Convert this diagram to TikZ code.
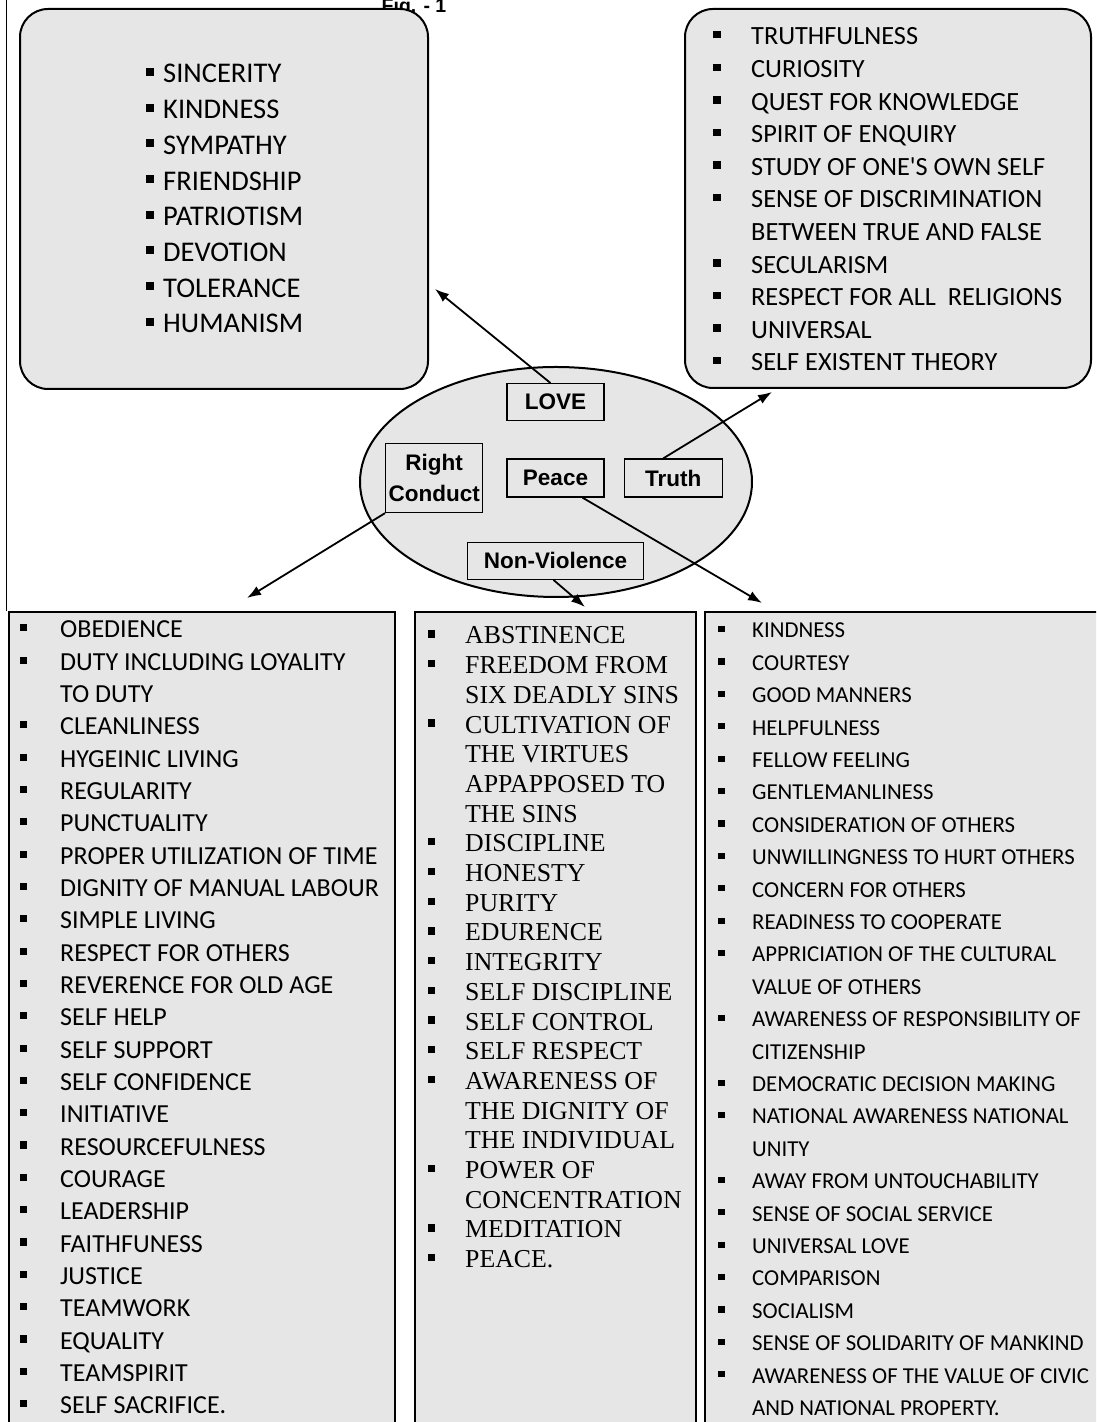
\documentclass[tikz,border=0pt]{standalone}
\usepackage{fontspec}
\setmainfont{Carlito}
\newfontfamily\serifFont{Liberation Serif}
\newfontfamily\headFont{Liberation Sans}
\usetikzlibrary{arrows.meta, positioning, shapes.geometric, calc}
\definecolor{boxFill}{RGB}{230,230,230}
\definecolor{ink}{RGB}{0,0,0}
\newcommand{\sqb}{\rule[.25em]{.28em}{.28em}}
\newcommand{\listFont}[2]{\fontsize{#1}{#2}\selectfont}
\tikzset{
  valueBox/.style={draw=ink, line width=2pt, rounded corners=28pt, fill=boxFill, inner sep=0pt},
  listBox/.style={draw=ink, line width=2pt, fill=boxFill, inner sep=0pt},
  core/.style={ellipse, draw=ink, line width=2pt, fill=boxFill, inner sep=0pt},
  tag/.style={draw=ink, line width=1.3pt, fill=boxFill, inner sep=0pt, align=center,
    font=\headFont\bfseries\fontsize{22.5}{31}\selectfont},
  items/.style={inner sep=0pt, anchor=base west},
  link/.style={-{Latex[length=14pt,width=10pt]}, line width=1.8pt, draw=ink},
  frameLine/.style={draw=ink, line width=1pt}
}

\begin{document}
\begin{tikzpicture}[x=1pt, y=1pt]
  \useasboundingbox (0,0) rectangle (1096,1422);
  \clip (0,0) rectangle (1096,1422);

  \node[anchor=base, font=\headFont\bfseries\fontsize{19.5}{22}\selectfont] (title) at (414,1409) {Fig. - 1};

  % upper boxes
  \node[valueBox, minimum width=408pt, minimum height=380pt] (loveBox) at (224,1223) {};
  \node[valueBox, minimum width=406pt, minimum height=379pt] (truthBox) at (888,1223.5) {};

  % lower boxes, cut by the page edge
  \node[listBox, minimum width=386pt, minimum height=840pt] (conductBox) at (202,390) {};
  \node[listBox, minimum width=281pt, minimum height=840pt] (violenceBox) at (555.5,390) {};
  \node[listBox, minimum width=415pt, minimum height=840pt] (peaceBox) at (912.5,390) {};
  \draw[frameLine] ([xshift=-2pt]conductBox.north west) -- ++(0,612);

  \node[items, font=\listFont{28.5}{35.7}] (loveList) at (146,1339) {%
    \begin{tabular}[t]{@{}p{17pt}@{}l@{}}
      \sqb & SINCERITY\\
      \sqb & KINDNESS\\
      \sqb & SYMPATHY\\
      \sqb & FRIENDSHIP\\
      \sqb & PATRIOTISM\\
      \sqb & DEVOTION\\
      \sqb & TOLERANCE\\
      \sqb & HUMANISM
    \end{tabular}};

  \node[items, font=\listFont{26.3}{32.6}] (truthList) at (713,1377) {%
    \begin{tabular}[t]{@{}p{38pt}@{}l@{}}
      \sqb & TRUTHFULNESS\\
      \sqb & CURIOSITY\\
      \sqb & QUEST FOR KNOWLEDGE\\
      \sqb & SPIRIT OF ENQUIRY\\
      \sqb & STUDY OF ONE\textquotesingle S OWN SELF\\
      \sqb & SENSE OF DISCRIMINATION\\
           & BETWEEN TRUE AND FALSE\\
      \sqb & SECULARISM\\
      \sqb & RESPECT FOR ALL\ \ RELIGIONS\\
      \sqb & UNIVERSAL\\
      \sqb & SELF EXISTENT THEORY
    \end{tabular}};

  \node[items, font=\listFont{26}{32.33}] (conductList) at (20,784) {%
    \begin{tabular}[t]{@{}p{40pt}@{}l@{}}
      \sqb & OBEDIENCE\\
      \sqb & DUTY INCLUDING LOYALITY\\
           & TO DUTY\\
      \sqb & CLEANLINESS\\
      \sqb & HYGEINIC LIVING\\
      \sqb & REGULARITY\\
      \sqb & PUNCTUALITY\\
      \sqb & PROPER UTILIZATION OF TIME\\
      \sqb & DIGNITY OF MANUAL LABOUR\\
      \sqb & SIMPLE LIVING\\
      \sqb & RESPECT FOR OTHERS\\
      \sqb & REVERENCE FOR OLD AGE\\
      \sqb & SELF HELP\\
      \sqb & SELF SUPPORT\\
      \sqb & SELF CONFIDENCE\\
      \sqb & INITIATIVE\\
      \sqb & RESOURCEFULNESS\\
      \sqb & COURAGE\\
      \sqb & LEADERSHIP\\
      \sqb & FAITHFUNESS\\
      \sqb & JUSTICE\\
      \sqb & TEAMWORK\\
      \sqb & EQUALITY\\
      \sqb & TEAMSPIRIT\\
      \sqb & SELF SACRIFICE.
    \end{tabular}};

  \node[items, font=\serifFont\listFont{25.8}{29.7}] (violenceList) at (428,778) {%
    \begin{tabular}[t]{@{}p{37pt}@{}l@{}}
      \sqb & ABSTINENCE\\
      \sqb & FREEDOM FROM\\
           & SIX DEADLY SINS\\
      \sqb & CULTIVATION OF\\
           & THE VIRTUES\\
           & APPAPPOSED TO\\
           & THE SINS\\
      \sqb & DISCIPLINE\\
      \sqb & HONESTY\\
      \sqb & PURITY\\
      \sqb & EDURENCE\\
      \sqb & INTEGRITY\\
      \sqb & SELF DISCIPLINE\\
      \sqb & SELF CONTROL\\
      \sqb & SELF RESPECT\\
      \sqb & AWARENESS OF\\
           & THE DIGNITY OF\\
           & THE INDIVIDUAL\\
      \sqb & POWER OF\\
           & CONCENTRATION\\
      \sqb & MEDITATION\\
      \sqb & PEACE.
    \end{tabular}};

  \node[items, font=\listFont{22.8}{32.4}] (peaceList) at (718,784) {%
    \begin{tabular}[t]{@{}p{34pt}@{}l@{}}
      \sqb & KINDNESS\\
      \sqb & COURTESY\\
      \sqb & GOOD MANNERS\\
      \sqb & HELPFULNESS\\
      \sqb & FELLOW FEELING\\
      \sqb & GENTLEMANLINESS\\
      \sqb & CONSIDERATION OF OTHERS\\
      \sqb & UNWILLINGNESS TO HURT OTHERS\\
      \sqb & CONCERN FOR OTHERS\\
      \sqb & READINESS TO COOPERATE\\
      \sqb & APPRICIATION OF THE CULTURAL\\
           & VALUE OF OTHERS\\
      \sqb & AWARENESS OF RESPONSIBILITY OF\\
           & CITIZENSHIP\\
      \sqb & DEMOCRATIC DECISION MAKING\\
      \sqb & NATIONAL AWARENESS NATIONAL\\
           & UNITY\\
      \sqb & AWAY FROM UNTOUCHABILITY\\
      \sqb & SENSE OF SOCIAL SERVICE\\
      \sqb & UNIVERSAL LOVE\\
      \sqb & COMPARISON\\
      \sqb & SOCIALISM\\
      \sqb & SENSE OF SOLIDARITY OF MANKIND\\
      \sqb & AWARENESS OF THE VALUE OF CIVIC\\
           & AND NATIONAL PROPERTY.
    \end{tabular}};

  % the centre
  \node[core, minimum width=392pt, minimum height=230pt] (core) at (556,940) {};
  \node[tag, minimum width=97pt, minimum height=38pt] (peace) at (555.5,944) {Peace};
  \node[tag, minimum width=98pt, minimum height=38pt, right=19pt of peace] (truth) {Truth};
  \node[tag, minimum width=97pt, minimum height=69pt, left=23pt of peace] (conduct) {Right\\Conduct};
  \node[tag, minimum width=97pt, minimum height=37pt, above=37pt of peace] (love) {LOVE};
  \node[tag, minimum width=176pt, minimum height=37pt, below=44pt of peace] (nonviolence) {Non-Violence};

  \coordinate (loveTip) at (435,1133);
  \coordinate (truthTip) at (772,1030);
  \coordinate (conductTip) at (247,824);
  \coordinate (violenceTip) at (585,815);
  \coordinate (peaceTip) at (762,819);

  \draw[link] ([xshift=-5pt]love.north) -- (loveTip);
  \draw[link] ([xshift=-10pt]truth.north) -- (truthTip);
  \draw[link] (conduct.south west) -- (conductTip);
  \draw[link] ([xshift=-2pt]nonviolence.south) -- (violenceTip);
  \draw[link] ([xshift=27pt]peace.south) -- (peaceTip);
\end{tikzpicture}
\end{document}
